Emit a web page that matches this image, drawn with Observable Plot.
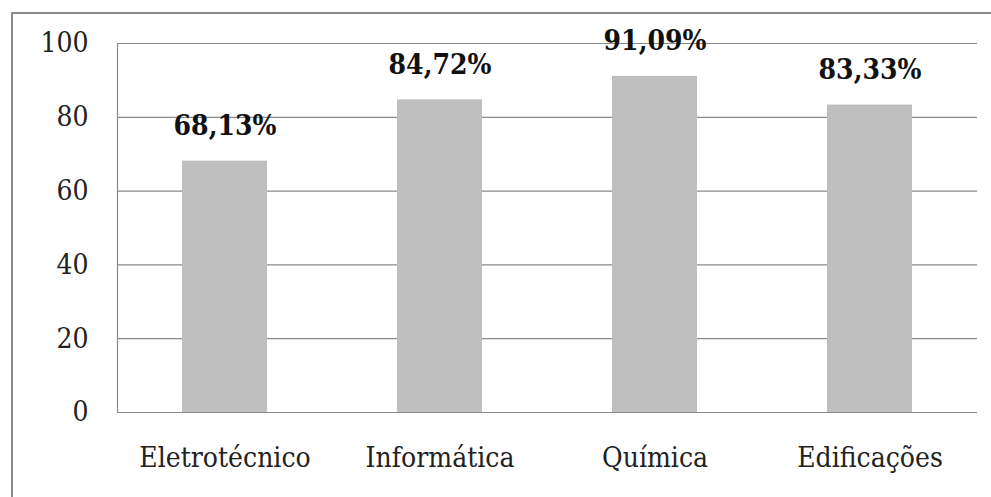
<!DOCTYPE html>
<html>
<head>
<meta charset="utf-8">
<script src="https://cdn.jsdelivr.net/npm/d3@7"></script>
<script src="https://cdn.jsdelivr.net/npm/@observablehq/plot@0.6"></script>
<style>
  html, body { margin: 0; padding: 0; background: #fff; }
  #wrap { position: relative; width: 991px; height: 497px; overflow: hidden; }
  #frame { position: absolute; left: 11px; top: 12px; width: 1000px; height: 600px;
           border-left: 2px solid #8a8a8a; border-top: 2px solid #8a8a8a; }
  #chart { position: absolute; left: 0; top: 0; }
  .cond text { font-stretch: condensed; }
</style>
</head>
<body>
<div id="wrap"><div id="frame"></div><div id="chart"></div></div>
<script>
const categories = ["Eletrotécnico", "Informática", "Química", "Edificações"];
const values = [68.13, 84.72, 91.09, 83.33];
const labels = ["68,13%", "84,72%", "91,09%", "83,33%"];
const yTicks = [0, 20, 40, 60, 80, 100];

const data = categories.map((c, i) => ({category: c, value: values[i], label: labels[i]}));

const chart = Plot.plot({
  width: 991,
  height: 497,
  marginLeft: 117,
  marginRight: 14,
  marginTop: 43,
  marginBottom: 85,
  style: {fontSize: "30px", color: "#222", background: "transparent", overflow: "visible"},
  x: {domain: categories, paddingInner: 0.605, paddingOuter: 0.3025, label: null},
  y: {domain: [0, 100], ticks: yTicks, label: null},
  marks: [
    Plot.gridY(yTicks, {stroke: "#8a8a8a", strokeOpacity: 1, strokeWidth: 1.2}),
    Plot.barY(data, {x: "category", y: "value", fill: "#bfbfbf"}),
    Plot.frame({anchor: "left", stroke: "#8a8a8a", strokeWidth: 1.2}),
    Plot.ruleY([0], {stroke: "#8a8a8a", strokeWidth: 1.2}),
    Plot.axisY({ticks: yTicks, tickSize: 0, tickPadding: 29, fontSize: 28, fontFamily: "DejaVu Serif", className: "cond", fill: "#222", label: null}),
    Plot.axisX({tickSize: 0, tickPadding: 35, fontSize: 28, fontFamily: "DejaVu Serif Condensed", fill: "#222", label: null}),
    Plot.text(data, {x: "category", y: "value", text: "label", dy: -26, lineAnchor: "bottom",
      fontWeight: "bold", fontSize: 28, fontFamily: "DejaVu Serif", className: "cond", fill: "#111"})
  ]
});
document.getElementById("chart").appendChild(chart);
</script>
</body>
</html>
